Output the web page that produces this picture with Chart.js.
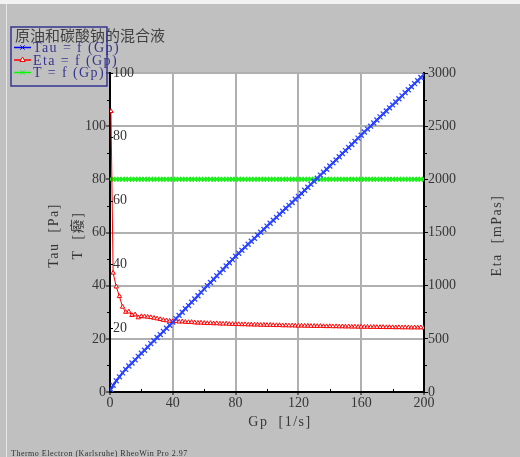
<!DOCTYPE html>
<html>
<head>
<meta charset="utf-8">
<script src="https://cdn.jsdelivr.net/npm/chart.js@4.4.1/dist/chart.umd.min.js"></script>
<style>
html, body { margin: 0; padding: 0; background: #c0c0c0; }
canvas { display: block; }
</style>
</head>
<body>
<canvas id="rheoChart" width="520" height="457"></canvas>
<script>
// Flow curve: shear rate Gp [1/s]
const gp = [
    0.6, 2, 4, 6, 8, 10, 12, 14, 16, 18,
    20, 22, 24, 26, 28, 30, 32, 34, 36, 38,
    40, 42, 44, 46, 48, 50, 52, 54, 56, 58,
    60, 62, 64, 66, 68, 70, 72, 74, 76, 78,
    80, 82, 84, 86, 88, 90, 92, 94, 96, 98,
    100, 102, 104, 106, 108, 110, 112, 114, 116, 118,
    120, 122, 124, 126, 128, 130, 132, 134, 136, 138,
    140, 142, 144, 146, 148, 150, 152, 154, 156, 158,
    160, 162, 164, 166, 168, 170, 172, 174, 176, 178,
    180, 182, 184, 186, 188, 190, 192, 194, 196, 198,
    200
];

// Shear stress Tau [Pa]
const tau = [
    0.9, 2.5, 4.2, 5.7, 7.2, 8.5, 9.8, 10.9, 12.1, 13.4,
    14.6, 15.7, 16.9, 18.2, 19.3, 20.5, 21.6, 22.8, 24.0, 25.1,
    26.3, 27.6, 28.8, 30.0, 31.3, 32.5, 33.8, 35.0, 36.2, 37.5,
    38.7, 40.0, 41.2, 42.4, 43.7, 44.9, 46.1, 47.4, 48.6, 49.8,
    51.1, 52.2, 53.3, 54.5, 55.6, 56.7, 57.8, 59.0, 60.1, 61.2,
    62.4, 63.5, 64.6, 65.7, 66.9, 68.0, 69.1, 70.2, 71.3, 72.5,
    73.6, 74.7, 75.9, 77.0, 78.1, 79.3, 80.4, 81.6, 82.7, 83.8,
    85.0, 86.2, 87.3, 88.5, 89.7, 90.8, 92.0, 93.1, 94.3, 95.5,
    96.6, 97.8, 98.9, 100.0, 101.2, 102.3, 103.5, 104.6, 105.7, 106.9,
    108.0, 109.1, 110.3, 111.4, 112.6, 113.7, 114.8, 116.0, 117.1, 118.3,
    119.4
];

// Viscosity Eta [mPas]
const eta = [
    2640, 1120, 990, 900, 800, 752, 755, 722, 728, 700,
    712, 709, 706, 702, 696, 690, 684, 676, 672, 668,
    664, 666, 660, 662, 658, 656, 657, 652, 650, 651,
    648, 646, 647, 644, 645, 642, 641, 642, 639, 638,
    638, 637, 635, 636, 633, 634, 632, 633, 630, 631,
    629, 630, 628, 627, 628, 625, 626, 624, 625, 623,
    622, 623, 621, 622, 620, 620, 619, 620, 618, 617,
    618, 616, 617, 615, 616, 614, 615, 613, 614, 612,
    613, 611, 612, 610, 611, 610, 609, 610, 608, 609,
    608, 607, 608, 606, 607, 606, 605, 606, 605, 606,
    604
];

// Temperature T
const temp = [
    66.7, 66.7, 66.7, 66.7, 66.7, 66.7, 66.7, 66.7, 66.7, 66.7,
    66.7, 66.7, 66.7, 66.7, 66.7, 66.7, 66.7, 66.7, 66.7, 66.7,
    66.7, 66.7, 66.7, 66.7, 66.7, 66.7, 66.7, 66.7, 66.7, 66.7,
    66.7, 66.7, 66.7, 66.7, 66.7, 66.7, 66.7, 66.7, 66.7, 66.7,
    66.7, 66.7, 66.7, 66.7, 66.7, 66.7, 66.7, 66.7, 66.7, 66.7,
    66.7, 66.7, 66.7, 66.7, 66.7, 66.7, 66.7, 66.7, 66.7, 66.7,
    66.7, 66.7, 66.7, 66.7, 66.7, 66.7, 66.7, 66.7, 66.7, 66.7,
    66.7, 66.7, 66.7, 66.7, 66.7, 66.7, 66.7, 66.7, 66.7, 66.7,
    66.7, 66.7, 66.7, 66.7, 66.7, 66.7, 66.7, 66.7, 66.7, 66.7,
    66.7, 66.7, 66.7, 66.7, 66.7, 66.7, 66.7, 66.7, 66.7, 66.7,
    66.7
];

// Tick labels
const gpTicks = [0, 40, 80, 120, 160, 200];
const tauTicks = [0, 20, 40, 60, 80, 100];
const tTicks = [20, 40, 60, 80, 100];
const etaTicks = [0, 500, 1000, 1500, 2000, 2500, 3000];

const chartTitle = '原油和碳酸钠的混合液';
const seriesLabels = ['Tau = f (Gp)', 'Eta = f (Gp)', 'T = f (Gp)'];
const footerText = 'Thermo Electron (Karlsruhe) RheoWin Pro 2.97';

const SERIF = '"Liberation Serif", "Noto Sans CJK SC", serif';
const TEXT_COLOR = '#363636';
const GRID_COLOR = '#b0b0b0';

function toPoints(ys) {
    return gp.map((x, i) => ({ x: x, y: ys[i] }));
}

function drawRotated(ctx, text, x, y) {
    ctx.save();
    ctx.translate(x, y);
    ctx.rotate(-Math.PI / 2);
    ctx.fillText(text, 0, 0);
    ctx.restore();
}

// Gray window, white plot area
const backgroundPlugin = {
    id: 'background',
    beforeDraw(chart) {
        const { ctx, chartArea } = chart;
        ctx.save();
        ctx.fillStyle = '#c0c0c0';
        ctx.fillRect(0, 0, chart.width, chart.height);
        ctx.fillStyle = '#f2f2f2';
        ctx.fillRect(0, 0, chart.width, 4);
        ctx.strokeStyle = '#e6e6e6';
        ctx.lineWidth = 1;
        ctx.beginPath();
        ctx.moveTo(6.5, 4);
        ctx.lineTo(6.5, chart.height);
        ctx.stroke();
        ctx.fillStyle = '#ffffff';
        ctx.fillRect(chartArea.left, chartArea.top, chartArea.right - chartArea.left, chartArea.bottom - chartArea.top);
        ctx.restore();
    }
};

// Minor ticks and the inward ticks of the T axis
const minorTicksPlugin = {
    id: 'minorTicks',
    afterDraw(chart) {
        const { ctx, chartArea, scales } = chart;
        ctx.save();
        ctx.strokeStyle = '#000';
        ctx.lineWidth = 1;
        ctx.beginPath();
        for (let v = 10; v < 120; v += 20) {
            const y = Math.round(scales.yTau.getPixelForValue(v)) + 0.5;
            ctx.moveTo(chartArea.left - 3, y);
            ctx.lineTo(chartArea.left, y);
        }
        for (let v = 20; v < 200; v += 40) {
            const x = Math.round(scales.x.getPixelForValue(v)) + 0.5;
            ctx.moveTo(x, chartArea.bottom);
            ctx.lineTo(x, chartArea.bottom - 3);
        }
        for (let v = 250; v < 3000; v += 500) {
            const y = Math.round(scales.yEta.getPixelForValue(v)) + 0.5;
            ctx.moveTo(chartArea.right, y);
            ctx.lineTo(chartArea.right + 3, y);
        }
        tTicks.forEach(v => {
            const y = Math.round(scales.yT.getPixelForValue(v)) + 0.5;
            ctx.moveTo(chartArea.left, y);
            ctx.lineTo(chartArea.left + 3, y);
        });
        ctx.stroke();
        ctx.restore();
    }
};

// Axis titles and footer
const axisTitlesPlugin = {
    id: 'axisTitles',
    afterDraw(chart) {
        const { ctx, chartArea } = chart;
        const midY = (chartArea.top + chartArea.bottom) / 2 + 3;
        ctx.save();
        ctx.fillStyle = TEXT_COLOR;
        ctx.font = '14px ' + SERIF;
        ctx.textAlign = 'center';
        ctx.textBaseline = 'middle';
        ctx.letterSpacing = '1.5px';
        drawRotated(ctx, 'Tau  [Pa]', 54, midY);
        drawRotated(ctx, 'T  [癈]', 78, midY);
        drawRotated(ctx, 'Eta  [mPas]', 497, midY);
        ctx.fillText('Gp  [1/s]', 280, 422);
        ctx.textAlign = 'left';
        ctx.font = '8px "Liberation Serif", serif';
        ctx.fillStyle = '#303030';
        ctx.letterSpacing = '0.5px';
        ctx.fillText(footerText, 11, 454);
        ctx.letterSpacing = '0px';
        ctx.restore();
    }
};

// Boxed legend with title
const legendBoxPlugin = {
    id: 'legendBox',
    afterDraw(chart) {
        const ctx = chart.ctx;
        ctx.save();
        ctx.fillStyle = '#404040';
        ctx.font = '15px "Noto Sans CJK SC", sans-serif';
        ctx.textBaseline = 'middle';
        ctx.fillText(chartTitle, 15, 35);
        ctx.strokeStyle = '#35358f';
        ctx.lineWidth = 1.5;
        ctx.strokeRect(11, 27, 96, 59);
        chart.data.datasets.forEach((ds, i) => {
            const y = 47.5 + i * 12.5;
            ctx.strokeStyle = ds.borderColor;
            ctx.lineWidth = 1.5;
            ctx.beginPath();
            ctx.moveTo(14, y);
            ctx.lineTo(31, y);
            ctx.stroke();
            ctx.fillStyle = ds.pointBackgroundColor;
            ctx.strokeStyle = ds.borderColor;
            ctx.lineWidth = 1;
            Chart.helpers.drawPoint(ctx, {
                pointStyle: ds.pointStyle,
                radius: 3,
                rotation: 0,
                borderWidth: 1
            }, 22.5, y);
            ctx.fillStyle = '#35358f';
            ctx.font = '14px ' + SERIF;
            ctx.letterSpacing = '1.4px';
            ctx.fillText(ds.label, 33, y + 1);
            ctx.letterSpacing = '0px';
        });
        ctx.restore();
    }
};

const tickFont = { family: SERIF, size: 14 };

new Chart(document.getElementById('rheoChart'), {
    type: 'line',
    data: {
        datasets: [
            {
                label: seriesLabels[0],
                data: toPoints(tau),
                yAxisID: 'yTau',
                borderColor: '#0000ff',
                backgroundColor: '#0000ff',
                pointBackgroundColor: '#0000ff',
                borderWidth: 2,
                pointStyle: 'crossRot',
                pointRadius: 3.5,
                pointBorderWidth: 1.3,
                pointBorderColor: '#2a48ff'
            },
            {
                label: seriesLabels[1],
                data: toPoints(eta),
                yAxisID: 'yEta',
                borderColor: '#ff0000',
                backgroundColor: '#ff0000',
                pointBackgroundColor: '#ffffff',
                borderWidth: 1,
                pointStyle: 'triangle',
                pointRadius: 2.5,
                pointBorderWidth: 1
            },
            {
                label: seriesLabels[2],
                data: toPoints(temp),
                yAxisID: 'yT',
                borderColor: '#00ff00',
                backgroundColor: '#00ff00',
                pointBackgroundColor: '#00ff00',
                borderWidth: 2,
                pointStyle: 'crossRot',
                pointRadius: 3,
                pointBorderWidth: 1.5,
                pointBorderColor: '#22ee22'
            }
        ]
    },
    options: {
        responsive: false,
        animation: false,
        devicePixelRatio: 1,
        layout: {
            padding: { top: 73, left: 0, right: 0, bottom: 0 }
        },
        plugins: {
            legend: { display: false },
            title: { display: false },
            tooltip: { enabled: false }
        },
        scales: {
            x: {
                type: 'linear',
                position: 'bottom',
                min: 0,
                max: 200,
                afterBuildTicks: scale => { scale.ticks = gpTicks.map(v => ({ value: v })); },
                afterFit: scale => { scale.height = 65; },
                ticks: { font: tickFont, color: TEXT_COLOR, padding: 0, maxRotation: 0, callback: v => String(v) },
                grid: { color: GRID_COLOR, lineWidth: 2, tickLength: 3, tickColor: '#000', tickWidth: 1 },
                border: { color: '#000', width: 2 }
            },
            yTau: {
                position: 'left',
                weight: 10,
                min: 0,
                max: 120,
                ticks: {
                    stepSize: 20,
                    font: tickFont,
                    color: TEXT_COLOR,
                    padding: 0,
                    callback: v => tauTicks.includes(v) ? String(v) : ''
                },
                afterFit: scale => { scale.width = 110; },
                grid: { color: GRID_COLOR, lineWidth: 2, tickLength: 4, tickColor: '#000', tickWidth: 1 },
                border: { color: '#000', width: 2 }
            },
            yT: {
                position: 'left',
                weight: 0,
                min: 0,
                max: 100,
                ticks: {
                    stepSize: 20,
                    mirror: true,
                    font: tickFont,
                    color: TEXT_COLOR,
                    padding: 3,
                    callback: v => tTicks.includes(v) ? String(v) : ''
                },
                afterFit: scale => { scale.width = 0; },
                grid: { drawOnChartArea: false, drawTicks: false },
                border: { display: false }
            },
            yEta: {
                position: 'right',
                min: 0,
                max: 3000,
                afterBuildTicks: scale => { scale.ticks = etaTicks.map(v => ({ value: v })); },
                ticks: { font: tickFont, color: TEXT_COLOR, padding: 0, callback: v => String(v) },
                afterFit: scale => { scale.width = 96; },
                grid: { drawOnChartArea: false, tickLength: 4, tickColor: '#000', tickWidth: 1 },
                border: { color: '#000', width: 2 }
            }
        }
    },
    plugins: [backgroundPlugin, minorTicksPlugin, axisTitlesPlugin, legendBoxPlugin]
});
</script>
</body>
</html>
